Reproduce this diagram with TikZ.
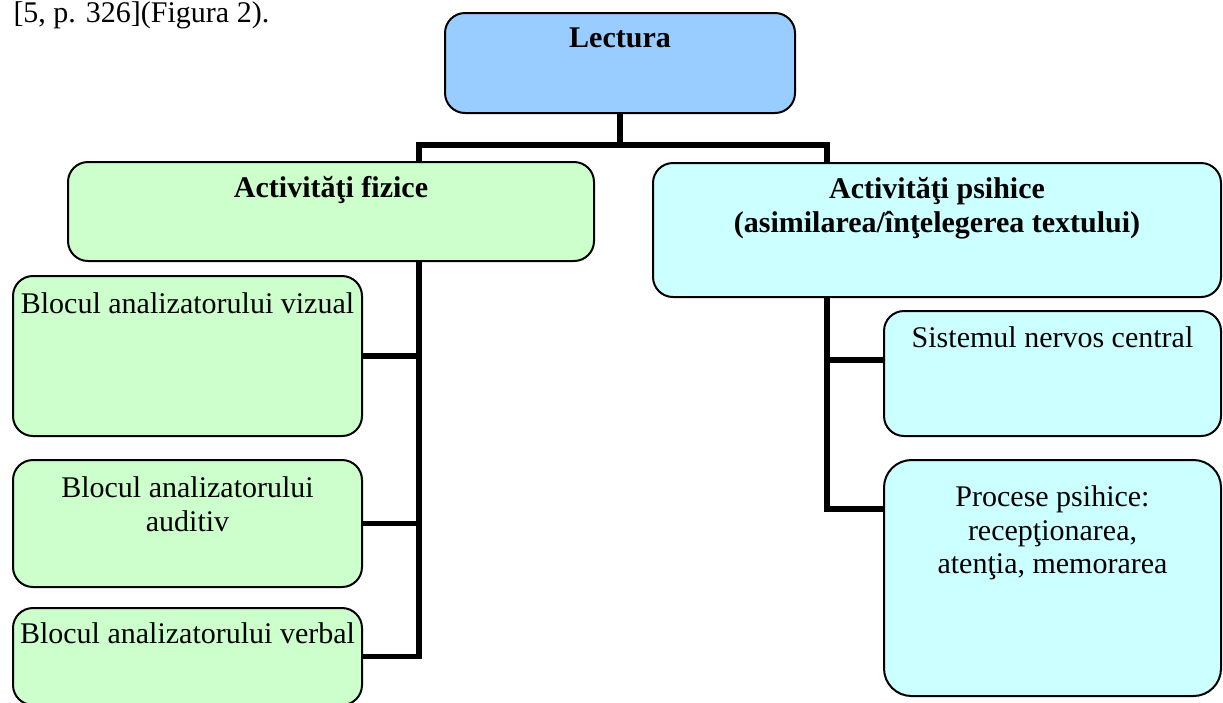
\documentclass[tikz,border=0pt]{standalone}
\usepackage{fontspec}
\setmainfont{Liberation Serif}
\usetikzlibrary{positioning}
\definecolor{lectblue}{HTML}{99CCFF}
\definecolor{fizgreen}{HTML}{CCFFCC}
\definecolor{psicyan}{HTML}{CCFFFF}
\tikzset{
  blok/.style={draw, line width=0.8pt, rounded corners=8pt, inner sep=0pt, outer sep=0pt},
  bloklbl/.style={inner sep=0pt, align=center, font=\fontsize{12}{13.5}\selectfont},
  bloktitle/.style={bloklbl, font=\fontsize{12}{13.5}\selectfont\bfseries},
  conn/.style={line width=2.3pt, line join=miter}
}
\newcommand{\blok}[6]{\node[blok, fill=#6, minimum width={(#4-#2)*0.4pt}, minimum height={(#5-#3)*0.4pt}] (#1) at ({(#2+#4)/2},{(#3+#5)/2}) {};}
\newcommand{\bloklabel}[5]{\node[#5, below=#3*0.4pt of #2.north] (#1) {#4};}

\begin{document}
\begin{tikzpicture}[x=0.4pt, y=-0.4pt]
\useasboundingbox (0,0) rectangle (1223,702);
% text above the figure
\node[bloklbl, anchor=base west] (cite) at (13,22) {[5, p. 326](Figura 2).};
% top row of boxes
\blok{lect}{445}{13}{795}{113}{lectblue}
\blok{fiz}{68}{162}{594}{261}{fizgreen}
\blok{psi}{653}{163}{1221}{297}{psicyan}
% left column
\blok{viz}{13}{276}{362}{436}{fizgreen}
\blok{aud}{13}{460}{362}{587}{fizgreen}
\blok{verb}{13}{608}{362}{705}{fizgreen}
% right column
\blok{sis}{884}{311}{1221}{436}{psicyan}
\node[blok, rounded corners=11pt, fill=psicyan, minimum width=337*0.4pt, minimum height=236*0.4pt] (pro) at (1052.5,578) {};
% labels
\bloklabel{lectL}{lect}{14}{Lectura}{bloktitle}
\bloklabel{fizL}{fiz}{14}{Activităţi fizice}{bloktitle}
\bloklabel{psiL}{psi}{14}{Activităţi psihice\\(asimilarea/înţelegerea textului)}{bloktitle}
\bloklabel{vizL}{viz}{16}{Blocul analizatorului vizual}{bloklbl}
\bloklabel{audL}{aud}{16}{Blocul analizatorului\\auditiv}{bloklbl}
\bloklabel{verbL}{verb}{14}{Blocul analizatorului verbal}{bloklbl}
\bloklabel{sisL}{sis}{15}{Sistemul nervos central}{bloklbl}
\bloklabel{proL}{pro}{25}{Procese psihice:\\recepţionarea,\\atenţia, memorarea}{bloklbl}
% connectors
\coordinate (busL) at (419,145);
\coordinate (busR) at (827,145);
\coordinate (sisB) at (827,360);
\coordinate (proB) at (827,509);
\draw[conn] (lect.south) -- (lect.south |- busL);
\draw[conn] (fiz.north -| busL) -- (busL) -- (busR) -- (psi.north -| busR);
\draw[conn] (fiz.south -| busL) |- (verb.east);
\draw[conn] (viz.east) -- (viz.east -| busL);
\draw[conn] (aud.east) -- (aud.east -| busL);
\draw[conn] (psi.south -| busR) -- (proB) -- (proB -| pro.west);
\draw[conn] (sisB) -- (sisB -| sis.west);
\end{tikzpicture}
\end{document}
